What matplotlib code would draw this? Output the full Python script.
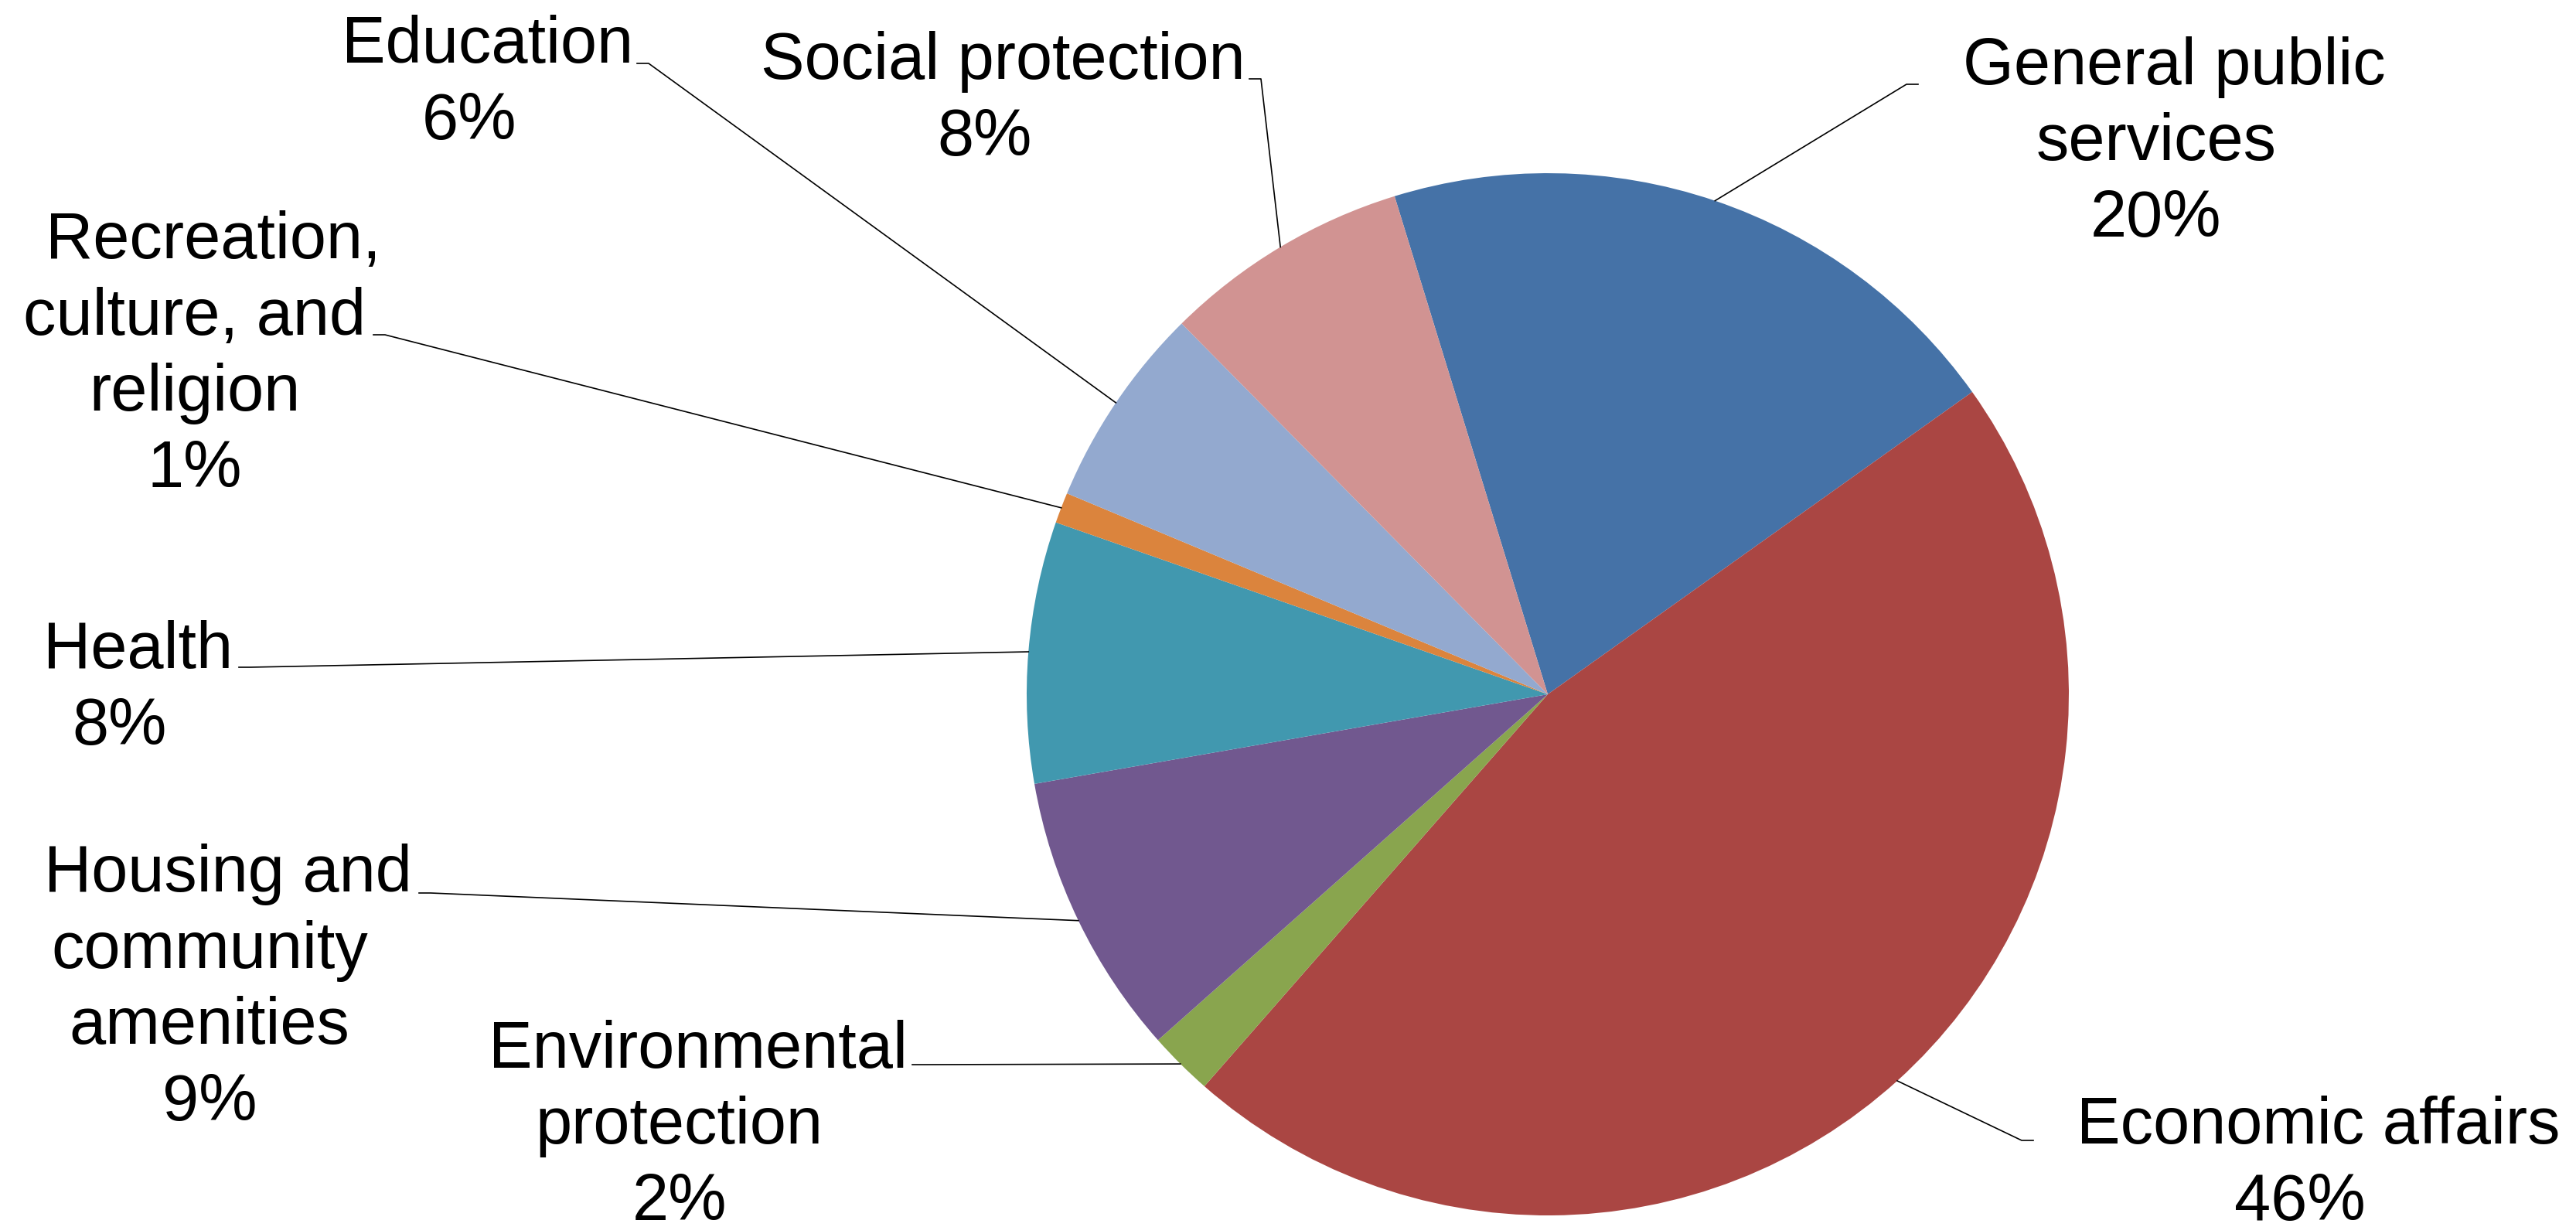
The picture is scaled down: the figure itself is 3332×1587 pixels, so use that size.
import matplotlib
matplotlib.use('Agg')
import matplotlib.pyplot as plt
import numpy as np

W, H = 3332, 1587

categories = ['General public\nservices', 'Economic affairs', 'Environmental\nprotection',
              'Housing and\ncommunity\namenities', 'Health', 'Recreation,\nculture, and\nreligion',
              'Education', 'Social protection']
shares = [19.9, 46.3, 2.0, 8.8, 8.1, 0.95, 6.3, 7.65]
colors = ['#4572A7', '#AA4643', '#89A54E', '#71588F', '#4198AF', '#DB843D', '#93A9CF', '#D19392']

# label layout, pixels from top-left: (center x, baseline of last line)
label_xy = [(2789, 306), (2975, 1578), (879, 1578), (271, 1449),
            (155, 963), (252, 630), (607, 180), (1274, 201)]
# where the leader line meets the label
leader_end = [(2481, 109), (2630, 1475), (1180, 1377), (542, 1155),
              (309, 863), (483, 433), (824, 82), (1616, 102)]

cx, cy, R = 2002, H - 898, 674
start = 107.1

fig = plt.figure(figsize=(W / 100, H / 100), dpi=100)
ax = fig.add_axes([0, 0, 1, 1])
wedges, _ = ax.pie(shares, colors=colors, startangle=start, counterclock=False,
                   center=(cx, cy), radius=R, wedgeprops=dict(linewidth=0))
ax.set_xlim(0, W)
ax.set_ylim(0, H)
ax.set_aspect('auto')
ax.axis('off')

for w, cat, v, (lx, ly), (ex, ey) in zip(wedges, categories, shares, label_xy, leader_end):
    mid = np.deg2rad((w.theta1 + w.theta2) / 2)
    px, py = cx + R * np.cos(mid), cy + R * np.sin(mid)
    ey = H - ey
    stub = 15 if ex < px else -15
    ax.plot([px, ex + stub, ex], [py, ey, ey], color='black', lw=1.2)
    first, *rest = cat.split('\n')
    txt = '\n'.join(['  ' + first] + rest + [f'{round(v)}%'])
    ax.text(lx, H - ly, txt, ha='center', va='baseline', multialignment='center',
            fontsize=61, family='Liberation Sans', linespacing=1.30)

fig.savefig('out.png', dpi=100, facecolor='white')
